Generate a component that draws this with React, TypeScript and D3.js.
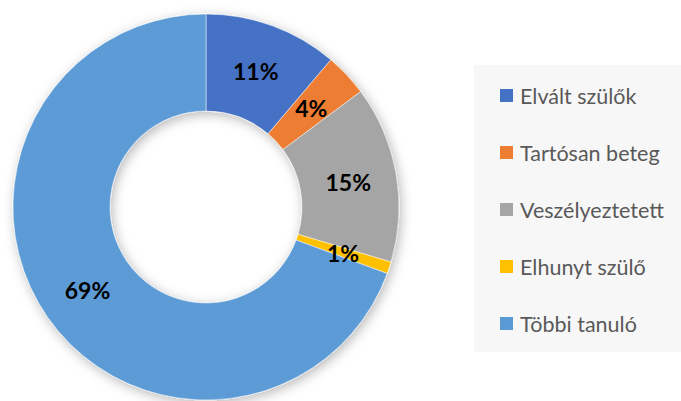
import React from "react";
import * as d3 from "d3";

const categories = ["Elvált szülők", "Tartósan beteg", "Veszélyeztetett", "Elhunyt szülő", "Többi tanuló"];
const values = [11.2, 3.6, 14.8, 1.0, 69.4];
const labels = ["11%", "4%", "15%", "1%", "69%"];
const colors = ["#4472C4", "#ED7D31", "#A5A5A5", "#FFC000", "#5B9BD5"];

const W = 681;
const H = 401;
const cx = 206;
const cy = 207;
const outerR = 193;
const innerR = 96;

export default function App() {
  const pie = d3.pie<number>().sort(null).value((d) => d)(values);
  const arc = d3.arc<d3.PieArcDatum<number>>().innerRadius(innerR).outerRadius(outerR);
  const legendY = d3.scaleLinear().domain([0, 4]).range([95, 323]);

  return (
    <svg
      width={W}
      height={H}
      style={{ position: "absolute", left: 0, top: 0, background: "#fff" }}
      fontFamily="Lato, 'Open Sans', sans-serif"
    >
      <defs>
        <filter id="shadow" x="-20%" y="-20%" width="140%" height="140%">
          <feDropShadow dx="2" dy="3" stdDeviation="6" floodColor="#000" floodOpacity="0.28" />
        </filter>
      </defs>
      <g transform={`translate(${cx},${cy})`}>
        <g filter="url(#shadow)">
          {pie.map((d, i) => (
            <path key={i} d={arc(d) || ""} fill={colors[i]} stroke="#fff" strokeWidth={0.5} />
          ))}
        </g>
        {pie.map((d, i) => {
          const [x, y] = arc.centroid(d);
          return (
            <text
              key={i}
              x={x}
              y={y}
              textAnchor="middle"
              dominantBaseline="central"
              fontSize={23}
              fontWeight="bold"
              fill="#000"
            >
              {labels[i]}
            </text>
          );
        })}
      </g>
      <rect x={474} y={65} width={207} height={287} fill="#f7f7f7" />
      {categories.map((c, i) => (
        <g key={i} transform={`translate(500,${legendY(i)})`}>
          <rect x={0} y={-6} width={13} height={13} fill={colors[i]} />
          <text x={20} y={1} dominantBaseline="central" fontSize={21.5} fill="#595959">
            {c}
          </text>
        </g>
      ))}
    </svg>
  );
}
